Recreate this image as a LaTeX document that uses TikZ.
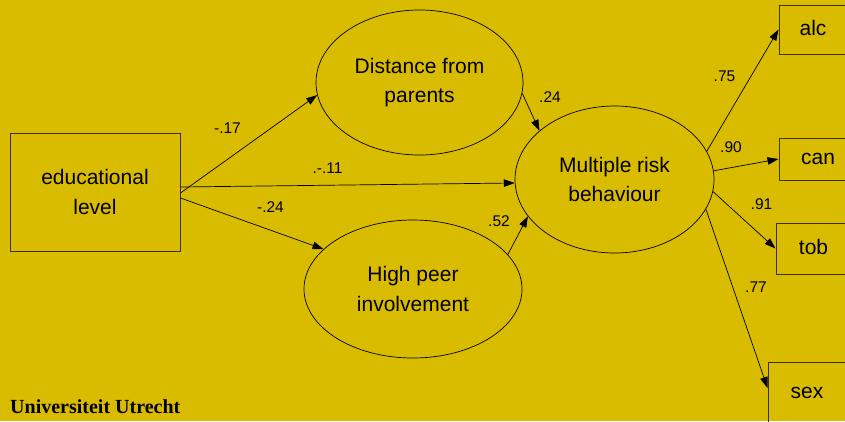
\documentclass[tikz,border=0pt]{standalone}
\usepackage{fontspec}
\setmainfont{Liberation Sans}
\newfontfamily\uufont{Liberation Serif}
\usetikzlibrary{arrows.meta,shapes.geometric}
\definecolor{bggold}{RGB}{217,188,0}
\definecolor{boxline}{RGB}{60,50,0}
\begin{document}
\begin{tikzpicture}[x=1pt,y=-1pt,
  lat/.style={ellipse,draw=black,line width=0.7pt,inner sep=0pt,align=center,font=\fontsize{21}{29.5}\selectfont},
  obsbox/.style={rectangle,draw=boxline,line width=1pt,inner sep=0pt,font=\fontsize{21}{25}\selectfont,text height=15pt,text depth=4pt},
  edubox/.style={rectangle,draw=boxline,line width=1pt,inner sep=0pt,align=center,font=\fontsize{21}{29.5}\selectfont},
  arr/.style={-{Triangle[length=11pt,width=7.5pt]},line width=0.7pt},
  coef/.style={font=\fontsize{15.5}{18}\selectfont,anchor=base,inner sep=0pt}
]
\fill[bggold] (0,0) rectangle (845,421);
\useasboundingbox (0,0) rectangle (845,421);
\clip (0,0) rectangle (845,421);

\node[edubox, minimum width=170pt, minimum height=118pt] (edu) at (95,192) {educational\\level};
\node[lat, minimum width=207pt, minimum height=145pt] (dist) at (419.5,82.5) {Distance from\\parents};
\node[lat, minimum width=199pt, minimum height=147pt] (mrb) at (614.5,179.5) {Multiple risk\\behaviour};
\node[lat, minimum width=218pt, minimum height=138pt] (peer) at (413,289) {High peer\\involvement};

\node[obsbox, minimum width=68pt, minimum height=49pt] (alc) at (813,29.5) {alc};
\node[obsbox, minimum width=78pt, minimum height=42pt] (can) at (818,159) {can};
\node[obsbox, minimum width=75pt, minimum height=51pt] (tob) at (813.5,248.5) {tob};
\node[obsbox, minimum width=78pt, minimum height=78pt, text depth=21pt] (sex) at (807,401) {sex};

\draw[arr] ([yshift=-1pt]edu.east) -- (dist.187.6);
\draw[arr] ([yshift=5pt]edu.east) -- (mrb.182);
\draw[arr] ([yshift=-6pt]edu.east) -- (peer.156.8);
\draw[arr] (dist.354.2) -- (mrb.147.6);
\draw[arr] (peer.20.96) -- (mrb.203.4);
\draw[arr] (mrb.17.1) -- (alc.west);
\draw[arr] (mrb.5.5) -- (can.west);
\draw[arr] (mrb.353.4) -- (tob.west);
\draw[arr] (mrb.342.3) -- ([yshift=13pt]sex.west);

\node[coef] (l1) at (227.5,133) {-.17};
\node[coef] (l2) at (327.5,173) {.-.11};
\node[coef] (l3) at (270.5,212) {-.24};
\node[coef] (l4) at (550,102) {.24};
\node[coef] (l5) at (499,226) {.52};
\node[coef] (l6) at (724.5,81) {.75};
\node[coef] (l7) at (731,152) {.90};
\node[coef] (l8) at (761.5,209) {.91};
\node[coef] (l9) at (756,292) {.77};

\node[anchor=base west, inner sep=0pt, font=\uufont\bfseries\fontsize{20}{24}\selectfont] (uu) at (10,413) {Universiteit Utrecht};
\end{tikzpicture}
\end{document}
